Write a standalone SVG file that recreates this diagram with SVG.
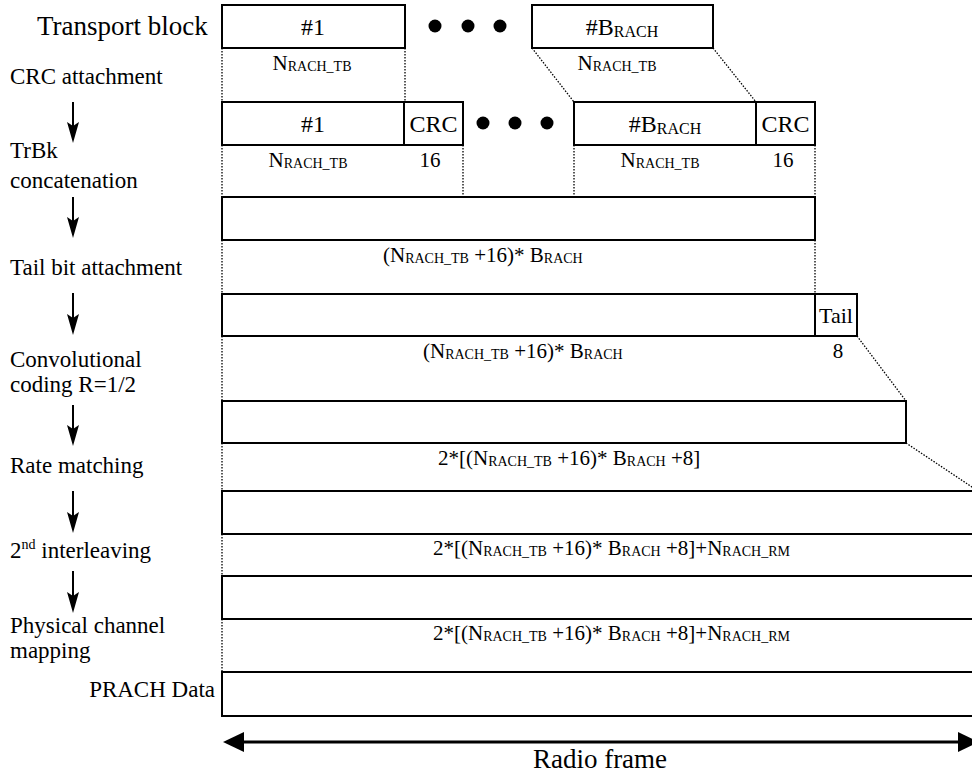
<svg xmlns="http://www.w3.org/2000/svg" width="972" height="774" viewBox="0 0 972 774" font-family="'Liberation Serif', 'DejaVu Serif', serif">
<defs>
<style>
text{font-family:'Liberation Serif','DejaVu Serif',serif;fill:#000}
.lbl{font-size:23px}
.big{font-size:27px}
.in{font-size:24px;text-anchor:middle}
.sm{font-size:21px}
.mid{text-anchor:middle}
.sub{font-size:14px}
.box{fill:#fff;stroke:#000;stroke-width:2}
.dot{fill:none;stroke:#000;stroke-width:1.3;stroke-dasharray:1.5 1.5}
.arr{stroke:#000;stroke-width:2;fill:none}
</style>
</defs>
<rect width="972" height="774" fill="#fff"/>

<g id="connectors">
<path class="dot" d="M222,48V102M405,48V102M532,48L574,102M713,48L756,102"/>
<path class="dot" d="M222,145V197M463,145V197M574,145V197M815,145V197"/>
<path class="dot" d="M222,240V294M815,240V294"/>
<path class="dot" d="M222,336V401M857,336L906,401"/>
<path class="dot" d="M222,443V491M906,443L978,491"/>
<path class="dot" d="M222,534V576M222,619V672"/>
<g id="step-arrows">
<path class="arr" d="M73,102V128M73,197V223M73,293V320M73,405V431M73,491V518M73,571V598"/>
<path d="M67,122L73,143L79,122L73,126ZM67,217L73,238L79,217L73,221ZM67,314L73,335L79,314L73,318ZM67,425L73,446L79,425L73,429ZM67,512L73,533L79,512L73,516ZM67,592L73,613L79,592L73,596Z" fill="#000"/>
</g>
<g id="radio-frame-arrow">
<line x1="240" y1="742" x2="962" y2="742" stroke="#000" stroke-width="3"/>
<path d="M223,742L244,732V752Z" fill="#000"/>
<path d="M979,742L958,732V752Z" fill="#000"/>
</g>
</g>

<g id="labels">
<text class="big" x="37" y="35">Transport block</text>
<text class="lbl" x="10" y="84">CRC attachment</text>
<text class="lbl" x="10" y="158">TrBk</text>
<text class="lbl" x="10" y="188">concatenation</text>
<text class="lbl" x="10" y="275">Tail bit attachment</text>
<text class="lbl" x="10" y="367">Convolutional</text>
<text class="lbl" x="10" y="392">coding R=1/2</text>
<text class="lbl" x="10" y="473">Rate matching</text>
<text class="lbl" x="10" y="558">2<tspan font-size="14px" dy="-9">nd</tspan><tspan dy="9"> interleaving</tspan></text>
<text class="lbl" x="10" y="633">Physical channel</text>
<text class="lbl" x="10" y="658">mapping</text>
<text class="lbl" x="215" y="697" text-anchor="end">PRACH Data</text>
<text class="big mid" x="600" y="768">Radio frame</text>
</g>

<g id="row-transport-block">
<rect class="box" x="222" y="5" width="183" height="43"/>
<text class="in" x="313" y="35">#1</text>
<rect class="box" x="532" y="5" width="181" height="43"/>
<text class="in" x="622" y="35">#B<tspan font-size="16px" dy="2">RACH</tspan></text>
<circle cx="435" cy="26" r="6.5"/>
<circle cx="468" cy="26" r="6.5"/>
<circle cx="500" cy="26" r="6.5"/>
<text class="sm mid" x="312" y="70">N<tspan class="sub" dy="1">RACH_TB</tspan></text>
<text class="sm mid" x="617" y="70">N<tspan class="sub" dy="1">RACH_TB</tspan></text>
</g>

<g id="row-crc">
<rect class="box" x="222" y="102" width="182" height="43"/>
<text class="in" x="313" y="132">#1</text>
<rect class="box" x="404" y="102" width="59" height="43"/>
<text class="in" x="433.5" y="132">CRC</text>
<circle cx="483" cy="123" r="6.5"/>
<circle cx="515" cy="123" r="6.5"/>
<circle cx="547" cy="123" r="6.5"/>
<rect class="box" x="574" y="102" width="182" height="43"/>
<text class="in" x="665" y="132">#B<tspan font-size="16px" dy="2">RACH</tspan></text>
<rect class="box" x="756" y="102" width="59" height="43"/>
<text class="in" x="785.5" y="132">CRC</text>
<text class="sm mid" x="308" y="167">N<tspan class="sub" dy="1">RACH_TB</tspan></text>
<text class="sm mid" x="430" y="167">16</text>
<text class="sm mid" x="660" y="167">N<tspan class="sub" dy="1">RACH_TB</tspan></text>
<text class="sm mid" x="783" y="167">16</text>
</g>

<g id="row-concatenation">
<rect class="box" x="222" y="197" width="593" height="43"/>
<text class="sm" x="383" y="262">(N<tspan class="sub" dy="1">RACH_TB</tspan><tspan dy="-1"> +16)* B</tspan><tspan class="sub" dy="1">RACH</tspan></text>
</g>

<g id="row-tail">
<rect class="box" x="222" y="294" width="593" height="42"/>
<rect class="box" x="815" y="294" width="42" height="42"/>
<text class="mid" x="836" y="323" font-size="22px">Tail</text>
<text class="sm" x="423" y="358">(N<tspan class="sub" dy="1">RACH_TB</tspan><tspan dy="-1"> +16)* B</tspan><tspan class="sub" dy="1">RACH</tspan></text>
<text class="sm mid" x="838" y="358">8</text>
</g>

<g id="row-coding">
<rect class="box" x="222" y="401" width="684" height="42"/>
<text class="sm" x="438" y="465">2*[(N<tspan class="sub" dy="1">RACH_TB</tspan><tspan dy="-1"> +16)* B</tspan><tspan class="sub" dy="1">RACH</tspan><tspan dy="-1"> +8]</tspan></text>
</g>

<g id="row-rate-matching">
<rect class="box" x="222" y="491" width="770" height="43"/>
<text class="sm" x="433" y="555">2*[(N<tspan class="sub" dy="1">RACH_TB</tspan><tspan dy="-1"> +16)* B</tspan><tspan class="sub" dy="1">RACH</tspan><tspan dy="-1"> +8]+N</tspan><tspan class="sub" dy="1">RACH_RM</tspan></text>
</g>

<g id="row-interleaving">
<rect class="box" x="222" y="576" width="770" height="43"/>
<text class="sm" x="433" y="640">2*[(N<tspan class="sub" dy="1">RACH_TB</tspan><tspan dy="-1"> +16)* B</tspan><tspan class="sub" dy="1">RACH</tspan><tspan dy="-1"> +8]+N</tspan><tspan class="sub" dy="1">RACH_RM</tspan></text>
</g>

<g id="row-prach-data">
<rect class="box" x="222" y="672" width="770" height="44"/>
</g>
</svg>
